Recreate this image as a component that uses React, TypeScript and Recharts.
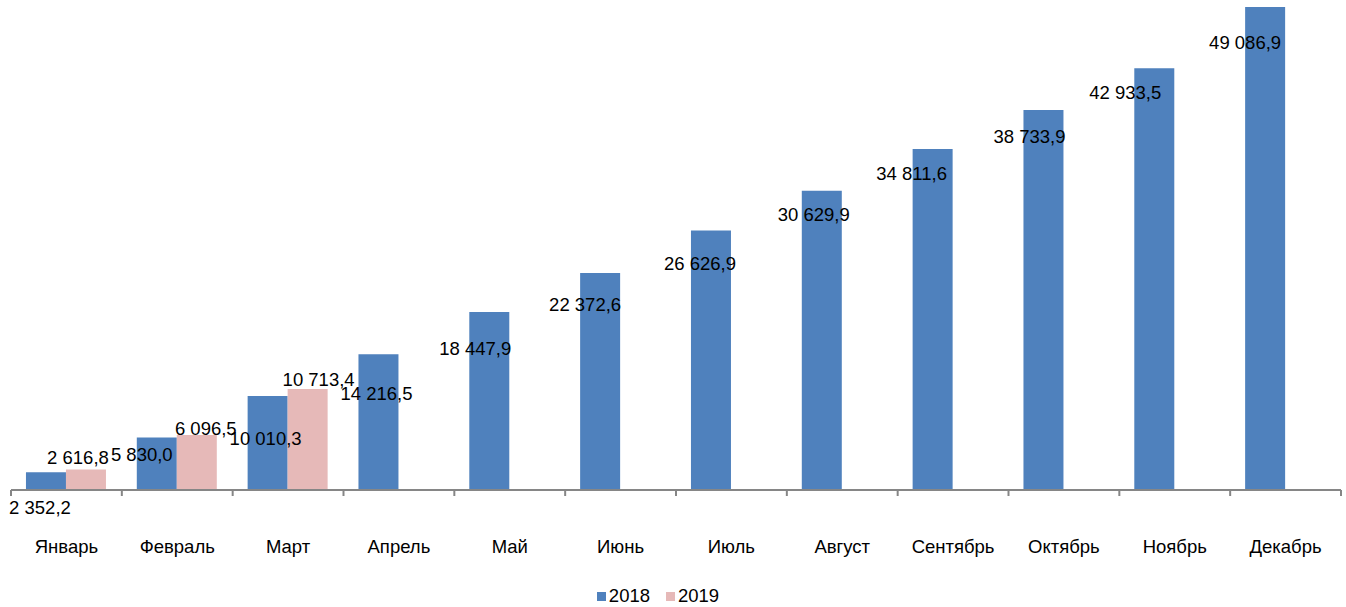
import { BarChart, Bar, XAxis, YAxis, Legend, LabelList } from 'recharts'

const months = ['Январь', 'Февраль', 'Март', 'Апрель', 'Май', 'Июнь', 'Июль', 'Август', 'Сентябрь', 'Октябрь', 'Ноябрь', 'Декабрь']
const values2018 = [2352.2, 5830.0, 10010.3, 14216.5, 18447.9, 22372.6, 26626.9, 30629.9, 34811.6, 38733.9, 42933.5, 49086.9]
const values2019 = [2616.8, 6096.5, 10713.4]

// label nudges (Excel put them all over the place), relative to bar top centre
const nudge2018 = [[-6, 35], [-15, 17], [-2, 42], [-2, 39], [-14, 36], [-15, 32], [-11, 33], [-8, 24], [-21, 24], [-14, 26], [-29, 24], [-20, 35]]
const nudge2019 = [[-8, -12], [9, -6], [11, -10]]

const W = 1346
const H = 607
const M = { top: 7, right: 5, left: 11, bottom: 0 }
const BAND = (W - M.left - M.right) / months.length
const FONT = '"Liberation Sans", Arial, sans-serif'
const FS = 18.5

const data = months.map((m, i) => ({
  month: m,
  y2018: values2018[i],
  y2019: i < values2019.length ? values2019[i] : null,
}))

const fmt = (v: number) => {
  const [int, dec] = v.toFixed(1).split('.')
  return int.replace(/\B(?=(\d{3})+(?!\d))/g, ' ') + ',' + dec
}

const makeLabel = (nudge: number[][]) => (props: any) => {
  const { x, y, width, value, index } = props
  if (value == null) return null
  const [dx, dy] = nudge[index] || [0, -10]
  return (
    <text x={x + width / 2 + dx} y={y + dy} textAnchor="middle" dominantBaseline="central"
      fontSize={FS} fontFamily={FONT} fill="#000">
      {fmt(value)}
    </text>
  )
}

const MonthTick = (props: any) => {
  const { x, y, payload, index } = props
  const left = x - BAND / 2
  return (
    <g>
      <line x1={left} y1={y} x2={left} y2={y + 6} stroke="#868686" strokeWidth={2} />
      {index === months.length - 1 && (
        <line x1={left + BAND} y1={y} x2={left + BAND} y2={y + 6} stroke="#868686" strokeWidth={2} />
      )}
      <text x={x} y={y + 56} textAnchor="middle" dominantBaseline="central" fontSize={FS} fontFamily={FONT} fill="#000">
        {payload.value}
      </text>
    </g>
  )
}

const legendItems = [['2018', '#4F81BD'], ['2019', '#E6B9B8']]

const LegendBox = () => (
  <div style={{ height: 47, display: 'flex', justifyContent: 'center', alignItems: 'flex-end', fontFamily: FONT, fontSize: FS, color: '#000', paddingRight: 36 }}>
    {legendItems.map(([name, c], i) => (
      <span key={name} style={{ display: 'inline-flex', alignItems: 'center', marginRight: i < legendItems.length - 1 ? 16 : 0, height: 22 }}>
        <span style={{ width: 9, height: 9, background: c, display: 'inline-block', marginRight: 3 }} />
        {name}
      </span>
    ))}
  </div>
)

export default function App() {
  return (
    <div style={{ position: 'absolute', left: 0, top: 0, width: W, height: H, background: '#fff' }}>
      <BarChart width={W} height={H} data={data} margin={M} barCategoryGap="13.5%" barGap={0}>
        <XAxis dataKey="month" height={70} interval={0} tickLine={false} tickSize={0} tickMargin={0}
          axisLine={{ stroke: '#868686', strokeWidth: 2 }} tick={<MonthTick />} />
        <YAxis hide domain={[568, 49087]} allowDataOverflow />
        <Legend verticalAlign="bottom" height={47} content={<LegendBox />} />
        <Bar dataKey="y2018" name="2018" fill="#4F81BD" isAnimationActive={false}>
          <LabelList dataKey="y2018" content={makeLabel(nudge2018)} />
        </Bar>
        <Bar dataKey="y2019" name="2019" fill="#E6B9B8" isAnimationActive={false}>
          <LabelList dataKey="y2019" content={makeLabel(nudge2019)} />
        </Bar>
      </BarChart>
    </div>
  )
}
